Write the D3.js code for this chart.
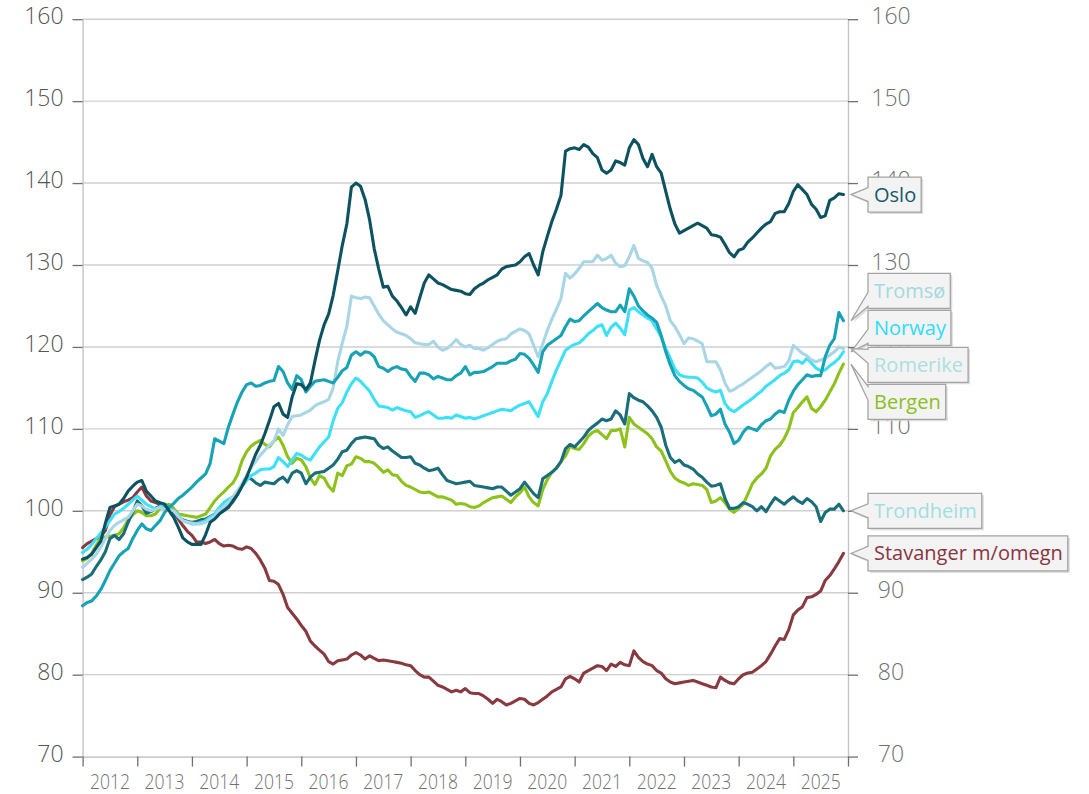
<!DOCTYPE html>
<html><head><meta charset="utf-8">
<script src="https://cdn.jsdelivr.net/npm/d3@7"></script>
<style>body{margin:0;background:#fff}svg{display:block}</style>
</head><body>
<svg id="chart" width="1089" height="794"></svg>
<script>
// ---------- DATA ----------
const startYear = 2012;               // monthly series, first month = Jan 2012
const yearLabels = ["2012","2013","2014","2015","2016","2017","2018","2019","2020","2021","2022","2023","2024","2025"];
const yTicks = [70,80,90,100,110,120,130,140,150,160];

const oslo = [
94.1,94.3,94.7,95.5,96.3,98.5,100.4,100.6,100.8,101.5,102.4,103.0,
103.5,103.7,102.4,101.8,101.2,101.0,100.8,100.0,99.2,98.0,96.7,96.2,
95.9,95.9,95.9,97.1,98.6,99.0,99.6,100.0,100.4,101.2,102.0,103.0,
104.1,105.5,106.9,108.0,109.4,111.0,112.7,113.1,111.8,111.4,113.9,115.5,
115.4,114.8,115.6,118.3,120.8,122.7,124.0,126.3,129.3,132.4,135.0,139.5,
140.0,139.6,138.0,135.5,132.0,129.5,127.3,127.4,126.2,125.6,124.8,123.9,
124.9,124.1,126.0,127.8,128.8,128.3,127.8,127.6,127.3,127.0,126.9,126.8,
126.5,126.4,127.1,127.5,127.8,128.2,128.5,128.8,129.5,129.8,129.9,130.0,
130.4,131.0,131.4,130.0,128.8,131.6,133.5,135.3,136.8,138.5,143.9,144.2,
144.3,144.1,144.7,144.4,143.6,143.1,141.6,141.2,141.6,142.7,142.5,142.2,
144.3,145.3,144.7,143.0,142.0,143.5,142.0,141.2,139.0,136.8,135.0,133.9,
134.2,134.5,134.8,135.1,134.8,134.5,133.7,133.6,133.4,132.5,131.5,131.0,
131.8,132.0,132.8,133.3,133.9,134.5,135.0,135.3,136.3,136.5,136.5,137.5,
139.0,139.8,139.2,138.6,137.4,136.8,135.8,136.0,137.9,138.2,138.7,138.6];

const tromso = [
88.4,88.8,89.0,89.6,90.4,91.5,92.7,93.6,94.5,95.0,95.4,96.6,
97.6,98.4,97.8,97.6,98.2,98.8,99.8,100.4,100.9,101.5,101.9,102.4,
102.9,103.5,104.0,104.5,105.8,108.8,108.5,108.2,110.2,111.8,113.3,114.5,
115.4,115.6,115.2,115.3,115.6,115.8,115.9,117.6,117.0,115.6,114.8,116.5,
116.0,114.5,115.2,115.8,115.9,116.0,115.8,115.6,116.3,117.1,117.5,119.0,
119.4,119.0,119.4,119.3,118.8,117.6,117.4,117.0,117.4,117.6,117.3,117.2,
116.4,115.8,116.8,116.8,116.6,116.1,116.4,116.2,116.0,116.0,116.5,116.8,
117.6,116.6,116.9,116.9,117.0,117.3,117.6,118.0,118.0,118.0,118.3,118.5,
119.2,119.1,118.6,117.8,116.9,119.4,120.2,120.6,121.0,121.4,122.5,123.4,
123.1,123.2,123.8,124.3,124.8,125.3,124.8,124.5,124.3,124.3,125.1,124.3,
127.1,126.2,125.0,124.4,123.9,123.5,123.0,121.4,119.4,117.8,116.5,115.8,
115.3,114.9,114.7,114.3,113.9,112.8,111.6,111.8,112.4,110.6,109.6,108.2,
108.6,109.6,110.2,110.0,109.8,110.5,111.0,111.2,111.8,112.2,112.0,113.5,
114.6,115.4,116.0,116.6,116.4,116.5,116.5,118.8,120.2,121.0,124.2,123.2];

const romerike = [
93.1,93.6,94.1,94.7,95.6,96.6,97.6,98.2,98.6,98.9,99.2,100.0,
100.8,100.6,100.2,100.0,100.2,100.4,100.2,100.1,100.0,99.3,98.8,98.6,
98.5,98.4,98.4,98.6,99.0,99.3,100.1,100.5,101.0,101.7,102.5,103.3,
104.3,105.3,106.0,106.8,107.4,108.0,108.5,110.0,109.2,110.5,111.5,111.6,
111.7,112.0,112.3,112.8,113.1,113.3,113.6,115.0,118.2,120.5,122.5,126.2,
126.0,125.9,126.1,126.0,125.0,124.0,123.2,122.7,122.2,121.8,121.6,121.4,
121.0,120.5,120.4,120.3,120.3,120.7,120.0,119.6,119.8,120.3,120.9,120.3,
120.0,120.2,119.8,119.8,119.6,119.9,120.3,120.7,120.9,121.0,121.6,121.9,
122.2,122.0,121.6,120.2,118.8,120.4,122.0,123.4,124.6,125.9,129.0,128.4,
128.9,129.6,130.4,130.4,130.4,131.2,130.6,130.8,131.2,130.2,129.8,129.9,
131.0,132.4,130.8,130.5,130.3,129.6,127.5,126.2,125.0,123.2,122.5,121.5,
120.4,121.1,121.0,120.7,120.4,118.2,118.2,118.2,117.2,115.6,114.6,114.8,
115.2,115.5,115.9,116.3,116.7,117.1,117.6,118.0,117.4,117.5,117.6,118.3,
120.2,119.7,119.2,118.9,118.4,118.2,118.4,118.6,119.0,119.4,120.0,119.8];

const norway = [
94.9,95.3,95.9,96.6,97.3,98.0,98.8,99.6,99.9,100.3,100.8,101.3,
101.8,101.3,100.8,100.5,100.2,100.5,100.8,100.3,100.0,99.5,98.8,98.6,
98.4,98.4,98.6,98.8,99.2,99.6,100.4,101.0,101.4,101.7,102.0,103.0,
103.7,104.3,104.6,105.0,105.1,105.1,105.4,106.5,106.0,105.4,106.2,107.0,
106.8,106.4,106.2,107.0,107.8,108.4,109.0,111.0,112.5,113.2,114.5,115.5,
116.2,115.8,115.2,114.6,113.6,112.8,112.7,112.6,112.3,112.6,112.4,112.2,
112.1,111.4,111.6,111.9,112.1,111.7,111.3,111.3,111.4,111.3,111.7,111.5,
111.3,111.4,111.2,111.4,111.6,111.8,112.0,112.2,112.4,112.3,112.2,112.6,
112.9,113.1,113.3,112.4,111.5,113.3,114.3,115.8,117.2,118.4,119.6,120.0,
120.3,120.5,121.0,121.6,122.0,122.5,122.7,121.4,122.4,122.9,122.3,121.5,
124.5,124.8,124.3,123.9,123.5,123.2,122.2,121.2,119.8,118.6,117.3,116.6,
116.4,116.3,116.3,116.2,115.7,115.0,114.7,114.5,114.7,113.1,112.4,112.1,
112.5,112.9,113.3,113.7,114.2,114.6,115.2,115.6,116.0,116.5,116.8,117.2,
118.2,118.3,118.0,118.6,118.0,117.4,117.1,117.2,117.7,118.1,118.6,119.4];

const bergen = [
93.9,94.2,94.8,95.8,96.7,96.8,96.9,97.0,97.2,97.9,98.9,99.5,
100.0,99.8,99.4,99.4,99.6,100.3,100.6,100.8,100.3,99.6,99.5,99.4,
99.3,99.2,99.4,99.6,100.4,101.2,101.8,102.3,102.9,103.4,104.4,106.1,
107.2,107.9,108.3,108.6,108.1,107.8,108.5,109.0,108.0,106.6,105.8,106.4,
106.2,105.4,104.0,103.2,104.3,104.0,103.0,102.4,104.6,104.3,105.5,105.7,
106.6,106.4,106.0,106.0,105.8,105.3,104.7,105.0,104.4,104.3,103.6,103.1,
102.9,102.6,102.3,102.2,102.3,102.0,101.7,101.7,101.5,101.3,100.8,100.9,
100.8,100.5,100.4,100.6,101.0,101.3,101.6,101.7,101.8,101.4,101.0,101.7,
102.2,102.9,101.7,101.0,100.6,102.6,103.8,104.7,105.2,106.0,106.7,107.9,
107.6,107.5,108.2,109.1,109.6,109.8,109.3,108.8,109.8,109.8,110.0,107.8,
111.4,110.6,110.2,109.8,109.4,108.8,107.8,107.3,106.1,104.8,104.0,103.6,
103.4,103.1,103.3,103.2,103.1,102.6,101.0,101.2,101.6,101.0,100.2,99.8,
100.3,100.8,102.0,103.3,104.0,104.5,105.2,106.7,107.5,108.0,108.8,110.0,
112.0,112.6,113.3,113.9,112.5,112.1,112.7,113.5,114.5,115.5,116.8,117.9];

const trondheim = [
91.6,91.9,92.3,93.2,94.0,95.0,96.6,97.0,96.5,97.2,98.6,99.8,
101.2,100.6,99.7,99.9,100.3,100.6,100.8,100.4,99.8,99.2,98.9,98.7,
98.6,98.7,98.9,99.0,99.3,99.6,99.9,100.2,100.6,101.1,102.0,103.2,
104.1,103.9,103.4,103.1,103.5,103.4,103.3,103.8,104.1,103.5,104.6,104.9,
104.6,103.3,104.1,104.6,104.7,104.8,105.2,105.6,106.3,107.2,107.4,108.2,
108.8,108.9,109.0,108.9,108.8,108.0,107.6,107.8,107.3,106.9,106.5,106.5,
106.6,105.8,105.6,105.2,104.9,105.0,105.2,104.4,103.7,103.5,103.3,103.4,
103.5,103.6,103.1,103.0,102.9,102.8,102.7,102.9,102.9,102.4,101.9,102.3,
102.7,103.5,102.8,102.1,101.6,103.9,104.3,104.7,105.2,106.0,107.6,108.1,
107.8,108.4,109.0,109.8,110.3,110.7,111.2,111.0,111.2,112.2,111.7,110.6,
114.3,113.8,113.5,113.3,112.8,112.2,111.4,110.2,108.0,106.5,105.9,106.2,
105.6,105.4,105.1,104.5,104.1,103.5,103.0,103.1,103.3,101.5,100.3,100.3,
100.5,101.0,100.8,100.5,100.0,100.5,99.9,100.8,101.6,101.2,100.8,101.3,
101.7,101.2,100.9,101.5,101.1,100.5,98.7,99.8,100.2,100.2,100.8,100.0];

const stavanger = [
95.5,96.0,96.3,96.6,96.9,97.6,99.5,100.5,100.8,101.1,101.3,101.6,
102.3,102.9,101.8,101.2,101.0,100.8,100.6,100.2,99.8,99.0,98.2,97.5,
97.0,96.2,96.2,96.0,96.2,96.5,96.0,95.7,95.8,95.7,95.4,95.3,
95.6,95.4,94.8,94.0,93.0,91.5,91.4,91.0,89.8,88.2,87.5,86.8,
86.0,85.3,84.1,83.5,83.0,82.5,81.6,81.3,81.7,81.8,81.9,82.4,
82.7,82.4,81.9,82.3,82.0,81.7,81.8,81.7,81.6,81.5,81.4,81.2,
81.1,80.5,80.0,79.7,79.7,79.2,78.7,78.5,78.2,77.9,78.1,77.9,
78.3,77.8,77.7,77.7,77.4,77.0,76.5,77.0,76.7,76.3,76.5,76.8,
77.1,77.0,76.5,76.3,76.6,77.0,77.4,77.9,78.2,78.5,79.5,79.8,
79.5,79.1,80.2,80.5,80.8,81.1,81.0,80.5,81.3,81.0,81.5,81.2,
81.1,82.9,82.1,81.6,81.3,81.1,80.5,80.2,79.5,79.1,78.9,79.0,
79.1,79.2,79.3,79.1,78.9,78.7,78.5,78.4,79.7,79.3,79.0,78.9,
79.5,80.0,80.2,80.3,80.7,81.1,81.6,82.5,83.5,84.4,84.3,85.5,
87.3,87.9,88.3,89.4,89.5,89.8,90.2,91.5,92.1,92.9,93.8,94.8];

// series list (drawing order: first drawn at the bottom)
const seriesNames = ["Stavanger m/omegn","Bergen","Trondheim","Norway","Romerike","Tromsø","Oslo"];
const seriesValues = [stavanger, bergen, trondheim, norway, romerike, tromso, oslo];
// label stack order, top to bottom
const labelOrder = ["Oslo","Tromsø","Norway","Romerike","Bergen","Trondheim","Stavanger m/omegn"];

// ---------- STYLE ----------
const lineColor = {
  "Oslo":"#0c5261", "Tromsø":"#17a2b6", "Romerike":"#a9d6e6", "Norway":"#3ee0f8",
  "Bergen":"#8cc21b", "Trondheim":"#1a6e7b", "Stavanger m/omegn":"#893a40"
};
const labelColor = {
  "Oslo":"#145a68", "Tromsø":"#a4d9dd", "Norway":"#2fdcfb", "Romerike":"#ace0e0",
  "Bergen":"#8bbf1f", "Trondheim":"#9fdfe0", "Stavanger m/omegn":"#883540"
};
const FONT = "'Open Sans', 'Noto Sans', sans-serif";

const svg = d3.select("#chart");
const x = d3.scaleLinear().domain([startYear, startYear + yearLabels.length]).range([82.6, 848]);
const y = d3.scaleLinear().domain([70, 160]).range([756.6, 19.2]);

// gridlines
svg.append("g").selectAll("line").data(yTicks.filter(v => v > 70)).join("line")
  .attr("x1", x.range()[0]).attr("x2", x.range()[1])
  .attr("y1", d => y(d)).attr("y2", d => y(d))
  .attr("stroke", "#cfcfcf").attr("stroke-width", 1.4);

// left axis
const gl = svg.append("g").attr("transform", `translate(${x.range()[0]},0)`)
  .call(d3.axisLeft(y).tickValues(yTicks).tickSize(10).tickSizeOuter(0).tickPadding(9).tickFormat(d3.format("d")));
gl.select(".domain").attr("stroke", "#c4c4c4").attr("stroke-width", 1.4);
gl.selectAll(".tick line").attr("stroke", "#6f6f6f").attr("stroke-width", 1.3);
gl.selectAll(".tick text").attr("font-family", FONT).attr("font-size", 23).attr("font-weight", 300)
  .attr("fill", "#555").attr("dy", "0.2em");

// right axis
const gr = svg.append("g").attr("transform", `translate(${x.range()[1]},0)`)
  .call(d3.axisRight(y).tickValues(yTicks).tickSize(10).tickSizeOuter(0).tickFormat(d3.format("d")));
gr.select(".domain").attr("stroke", "#c4c4c4").attr("stroke-width", 1.4);
gr.selectAll(".tick line").attr("stroke", "#6f6f6f").attr("stroke-width", 1.3);
gr.selectAll(".tick text").attr("font-family", FONT).attr("font-size", 23).attr("font-weight", 300)
  .attr("fill", "#707070").attr("text-anchor", "middle").attr("x", 43).attr("dy", "0.2em");

// bottom axis (year boundaries)
const yearTicks = d3.range(startYear, startYear + yearLabels.length + 1);
const gb = svg.append("g").attr("transform", `translate(0,${y(70)})`)
  .call(d3.axisBottom(x).tickValues(yearTicks).tickSize(10).tickSizeOuter(0).tickFormat(""));
gb.select(".domain").attr("stroke", "#b8b8b8").attr("stroke-width", 1.4);
gb.selectAll(".tick line").attr("stroke", "#6f6f6f").attr("stroke-width", 1.3);

// year labels centred in each year
svg.append("g").selectAll("text").data(yearLabels).join("text")
  .attr("x", (d, i) => x(startYear + i + 0.5))
  .attr("y", 789)
  .attr("text-anchor", "middle")
  .attr("font-family", FONT).attr("font-size", 21).attr("font-weight", 300).attr("fill", "#707070")
  .attr("textLength", 40).attr("lengthAdjust", "spacingAndGlyphs")
  .text(d => d);

// lines
const line = d3.line()
  .x((d, i) => x(startYear + i / 12))
  .y(d => y(d));
svg.append("g").selectAll("path").data(seriesNames).join("path")
  .attr("d", (n, i) => line(seriesValues[i]))
  .attr("fill", "none")
  .attr("stroke", n => lineColor[n])
  .attr("stroke-width", 3.1)
  .attr("stroke-linejoin", "round")
  .attr("stroke-linecap", "round");

// end labels with callout boxes
const spacing = 37, boxH = 35, boxX = 868, tipX = 851;
const items = labelOrder.map(n => {
  const vals = seriesValues[seriesNames.indexOf(n)];
  return { name: n, ideal: y(vals[vals.length - 1]) };
});
let clusters = items.map(d => ({ members: [d] }));
function place(c) {
  const k = c.members.length;
  c.top = d3.mean(c.members, d => d.ideal) - (k - 1) / 2 * spacing;
}
clusters.forEach(place);
let merged = true;
while (merged) {
  merged = false;
  for (let i = 0; i < clusters.length - 1; i++) {
    const a = clusters[i], b = clusters[i + 1];
    const aLast = a.top + (a.members.length - 1) * spacing;
    if (b.top - aLast < spacing) {
      a.members = a.members.concat(b.members);
      place(a);
      clusters.splice(i + 1, 1);
      merged = true;
      break;
    }
  }
}
clusters.forEach(c => c.members.forEach((d, j) => d.cy = c.top + j * spacing));

const gLab = svg.append("g");
items.forEach(d => {
  const g = gLab.append("g");
  const t = g.append("text")
    .attr("x", boxX + 6).attr("y", d.cy)
    .attr("dy", "0.35em")
    .attr("font-family", FONT).attr("font-size", 20)
    .attr("fill", labelColor[d.name])
    .text(d.name);
  const w = t.node().getComputedTextLength() + 11;
  const top = d.cy - boxH / 2, bot = d.cy + boxH / 2, right = boxX + w;
  const bc = Math.max(top + 9, Math.min(bot - 9, d.ideal));
  const p = `M${boxX},${top}H${right}V${bot}H${boxX}V${bc + 7}L${tipX},${d.ideal}L${boxX},${bc - 7}Z`;
  g.insert("path", "text").attr("d", p).attr("transform", "translate(2,2)")
    .attr("fill", "#cfcfcf").attr("opacity", 0.7);
  g.insert("path", "text").attr("d", p)
    .attr("fill", "#f3f3f3").attr("stroke", "#a4a4a4").attr("stroke-width", 1.3);
});
</script>
</body></html>
